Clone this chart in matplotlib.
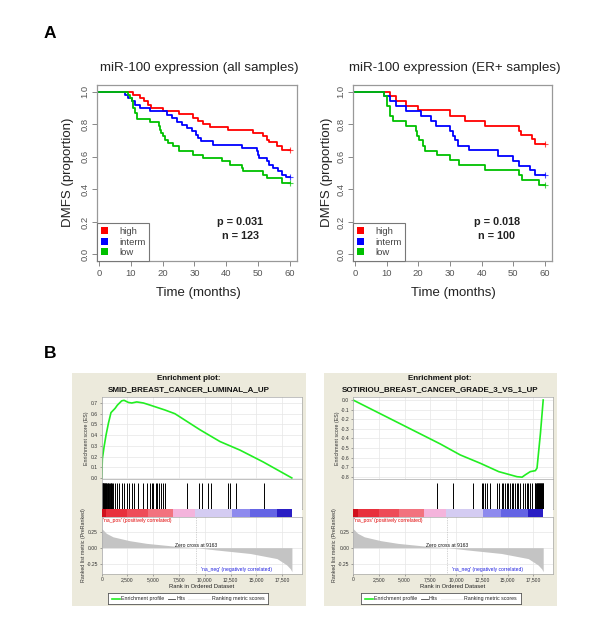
import matplotlib
matplotlib.use('Agg')
import matplotlib.pyplot as plt
from matplotlib.patches import Rectangle, Patch

plt.rcParams['font.family'] = ['Liberation Sans', 'DejaVu Sans']

# ---------------- data: Kaplan-Meier (panel A) ----------------
groups = ['high', 'interm', 'low']
group_colors = ['#FF0000', '#0000FF', '#00C000']

all_high_t = [10.8, 12.9, 14.1, 15.5, 16.2, 20.2, 25.1, 29.6, 31.2, 32.8, 34.9, 40.6, 48.5, 51.6, 52.7, 53.5, 55.8, 57.4]
all_high_s = [0.98, 0.96, 0.94, 0.92, 0.90, 0.88, 0.86, 0.84, 0.82, 0.80, 0.785, 0.765, 0.745, 0.725, 0.705, 0.69, 0.665, 0.643]
all_interm_t = [8.2, 9.2, 10.3, 11.3, 12.9, 16.0, 21.3, 23.1, 24.4, 26.0, 27.7, 29.1, 30.5, 31.2, 31.9, 35.9, 44.8,
                49.5, 49.8, 50.2, 52.7, 53.5, 54.6, 56.2, 57.4, 58.6]
all_interm_s = [0.98, 0.96, 0.94, 0.92, 0.90, 0.878, 0.857, 0.837, 0.816, 0.796, 0.776, 0.755, 0.735, 0.714, 0.694, 0.673, 0.653,
                0.633, 0.612, 0.592, 0.571, 0.551, 0.531, 0.51, 0.49, 0.473]
all_low_t = [9.2, 9.7, 10.3, 10.8, 11.3, 11.9, 16.0, 19.0, 19.2, 19.6, 20.2, 20.9, 21.8, 23.4, 25.1, 29.6, 32.8, 38.5,
             41.2, 44.8, 45.3, 51.6, 52.7, 57.4]
all_low_s = [0.98, 0.96, 0.94, 0.90, 0.87, 0.83, 0.81, 0.786, 0.765, 0.745, 0.724, 0.704, 0.684, 0.663, 0.637, 0.612, 0.592, 0.571,
             0.551, 0.531, 0.51, 0.49, 0.469, 0.44]

er_high_t = [11.0, 13.1, 16.1, 19.9, 30.1, 34.8, 40.9, 51.9, 52.5, 55.8, 56.7]
er_high_s = [0.97, 0.94, 0.91, 0.886, 0.85, 0.82, 0.79, 0.76, 0.735, 0.71, 0.68]
er_interm_t = [9.2, 11.0, 13.1, 16.1, 21.0, 24.1, 25.7, 29.9, 31.0, 31.5, 32.5, 36.0, 45.1, 50.0, 51.7, 55.1, 56.7]
er_interm_s = [0.97, 0.94, 0.91, 0.88, 0.85, 0.82, 0.786, 0.76, 0.73, 0.70, 0.667, 0.64, 0.606, 0.575, 0.545, 0.516, 0.486]
er_low_t = [9.2, 10.0, 11.0, 12.1, 16.1, 19.2, 19.6, 20.3, 21.6, 22.0, 26.0, 30.1, 32.8, 40.9, 51.9, 52.8, 58.0]
er_low_s = [0.97, 0.91, 0.85, 0.82, 0.786, 0.76, 0.73, 0.70, 0.667, 0.637, 0.608, 0.578, 0.547, 0.516, 0.485, 0.455, 0.424]

km_titles = ['miR-100 expression (all samples)', 'miR-100 expression (ER+ samples)']
km_pvals = ['p = 0.031', 'p = 0.018']
km_ns = ['n = 123', 'n = 100']
km_xticks = [0, 10, 20, 30, 40, 50, 60]
km_yticks = [0.0, 0.2, 0.4, 0.6, 0.8, 1.0]

# ---------------- data: GSEA (panel B) ----------------
gsea_titles = ['SMID_BREAST_CANCER_LUMINAL_A_UP', 'SOTIRIOU_BREAST_CANCER_GRADE_3_VS_1_UP']
es1_rank = [0, 65, 230, 420, 650, 900, 1300, 1520, 1940, 2170, 2590, 2920, 3400, 4050, 4700, 6120, 7100, 9530,
            11470, 13410, 15650, 18440]
es1_val = [0, 0.18, 0.29, 0.40, 0.51, 0.61, 0.65, 0.68, 0.72, 0.725, 0.705, 0.70, 0.71, 0.70, 0.68, 0.635, 0.60, 0.45,
           0.34, 0.26, 0.15, 0.0]
es2_rank = [0, 8456, 10400, 12350, 14130, 15910, 16400, 16720, 17200, 17690, 17850, 18180, 18450]
es2_val = [0, -0.458, -0.573, -0.66, -0.747, -0.80, -0.805, -0.78, -0.747, -0.737, -0.71, -0.35, 0.0]
es1_ticks = [0.0, 0.1, 0.2, 0.3, 0.4, 0.5, 0.6, 0.7]
es2_ticks = [0.0, -0.1, -0.2, -0.3, -0.4, -0.5, -0.6, -0.7, -0.8]

hits1 = [0, 40, 80, 120, 160, 200, 250, 300, 350, 400, 460, 520, 580, 640, 700, 780, 860, 950, 1040, 1130, 1290,
         1455, 1710, 1940, 2165, 2425, 2650, 2910, 3165, 3550, 4035, 4365, 4685, 4850, 5005, 5270, 5400, 5560, 5720,
         5915, 6140, 8300, 9470, 9700, 10340, 10600, 12280, 12445, 13030, 15770]
hits2 = [8150, 9700, 11670, 12480, 12640, 12800, 12970, 13290, 14000, 14190, 14420, 14580, 14740, 14910, 15070,
         15230, 15390, 15550, 15710, 15880, 16040, 16200, 16520, 16680, 16850, 17010, 17170, 17330, 17650, 17700,
         17750, 17800, 17850, 17900, 17950, 18000, 18050, 18100, 18150, 18200, 18250, 18300, 18350, 18400, 18450]

rank_pos = [0, 450, 1100, 2700, 4350, 5950, 7600, 9163, 11150, 14400, 17000, 17950, 18300, 18450]
rank_metric = [0.30, 0.225, 0.17, 0.11, 0.068, 0.042, 0.016, 0.0, -0.036, -0.09, -0.17, -0.27, -0.33, -0.375]
zero_cross = 9163
rank_xticks = [0, 2500, 5000, 7500, 10000, 12500, 15000, 17500]
rank_xticklabels = ['0', '2,500', '5,000', '7,500', '10,000', '12,500', '15,000', '17,500']
rank_yticks = [0.25, 0.0, -0.25]
rank_yticklabels = ['0.25', '0.00', '-0.25']

cb_edges = [0, 450, 2500, 4500, 6900, 9050, 12650, 14400, 17000, 18450]
cb_colors = ['#D0101C', '#E8303C', '#EE4C58', '#F2727E', '#F4B4DC', '#D4CCF2', '#8E8AEE', '#6464E4', '#2A1EC4']

# ---------------- layout helpers ----------------
W, H = 600, 643
fig = plt.figure(figsize=(6, 6.43), dpi=100)


def rect(x0, y0, x1, y1):
    return [x0 / W, 1 - y1 / H, (x1 - x0) / W, (y1 - y0) / H]


def ftext(x, y, s, **kw):
    fig.text(x / W, 1 - y / H, s, **kw)


# ---------------- panel A ----------------
ftext(50, 34, 'A', fontsize=12.5, fontweight='bold', ha='center', va='center')

km_sets = [
    [(all_high_t, all_high_s), (all_interm_t, all_interm_s), (all_low_t, all_low_s)],
    [(er_high_t, er_high_s), (er_interm_t, er_interm_s), (er_low_t, er_low_s)],
]
km_boxes = [(97, 85, 297, 261), (353, 85, 552, 261)]
km_title_x = [199, 455]
km_ylab_x = [68, 327]
km_p_x = [240, 497]

for i in range(2):
    x0, y0, x1, y1 = km_boxes[i]
    ax = fig.add_axes(rect(x0, y0, x1, y1))
    for (t, s), c in zip(km_sets[i], group_colors):
        tt = [0] + t + [60]
        ss = [1.0] + s + [s[-1]]
        ax.step(tt, ss, where='post', color=c, lw=1.3)
        ax.plot([60], [s[-1]], marker='+', color=c, ms=4, mew=0.8, alpha=0.7)
    ax.set_xlim(-0.6, 62.2)
    ax.set_ylim(-0.04, 1.04)
    ax.set_xticks(km_xticks)
    ax.set_yticks(km_yticks)
    ax.set_yticklabels(['%.1f' % v for v in km_yticks], rotation=90, va='center')
    ax.tick_params(direction='out', length=3.5, width=0.7, colors='#888888', labelcolor='#555555',
                   labelsize=6.8, pad=2)
    for sp in ax.spines.values():
        sp.set_color('#999999')
        sp.set_linewidth(0.9)
    handles = [Patch(facecolor=c, edgecolor='none') for c in group_colors]
    leg = ax.legend(handles, groups, loc='lower left', bbox_to_anchor=(0, 0), borderaxespad=0,
                    fancybox=False, framealpha=1, edgecolor='#777777', fontsize=6.8,
                    handlelength=0.75, handleheight=0.75, handletextpad=1.2, borderpad=0.4,
                    labelspacing=0.17)
    leg.get_frame().set_linewidth(0.8)
    for tx in leg.get_texts():
        tx.set_color('#444444')
    ftext(km_title_x[i], 68, km_titles[i], fontsize=9.6, ha='center', va='center', color='#222222')
    ftext(km_ylab_x[i], 172, 'DMFS (proportion)', fontsize=9.5, rotation=90, ha='center', va='center',
          color='#222222')
    ftext((x0 + x1) / 2 + 1, 293, 'Time (months)', fontsize=9.5, ha='center', va='center', color='#222222')
    ftext(km_p_x[i], 222, km_pvals[i], fontsize=7.8, fontweight='bold', ha='center', va='center', color='#222222')
    ftext(km_p_x[i], 236, km_ns[i], fontsize=7.8, fontweight='bold', ha='center', va='center', color='#222222')

# ---------------- panel B ----------------
ftext(50, 354, 'B', fontsize=12.5, fontweight='bold', ha='center', va='center')

BEIGE = '#ECEADC'
panels = [
    dict(bx=(72, 305.5), px=(101.7, 301.7), es_r=es1_rank, es_v=es1_val, ylim=(-0.01, 0.756),
         yt=es1_ticks, hits=hits1, leg=(108.3, 268.3), title=gsea_titles[0]),
    dict(bx=(323.5, 557), px=(353, 553), es_r=es2_rank, es_v=es2_val, ylim=(-0.824, 0.031),
         yt=es2_ticks, hits=hits2, leg=(361, 521), title=gsea_titles[1]),
]
XMAX = 19400
GRID = '#E6E6E6'
FRAME = '#A8A8A8'

for p in panels:
    bx0, bx1 = p['bx']
    px0, px1 = p['px']
    fig.add_artist(Rectangle((bx0 / W, 1 - 606 / H), (bx1 - bx0) / W, (606 - 372.7) / H,
                             transform=fig.transFigure, facecolor=BEIGE, edgecolor='none', zorder=-5))
    cx = (bx0 + bx1) / 2
    ftext(cx, 379, 'Enrichment plot:', fontsize=5.8, fontweight='bold', ha='center', va='center', color='#111111')
    ftext(cx, 389.5, p['title'], fontsize=5.8, fontweight='bold', ha='center', va='center', color='#111111')

    # ES plot
    ax_es = fig.add_axes(rect(px0, 397, px1, 479))
    ax_es.plot(p['es_r'], p['es_v'], color='#22EE22', lw=1.2)
    ax_es.set_xlim(0, XMAX)
    ax_es.set_ylim(*p['ylim'])
    ax_es.set_yticks(p['yt'])
    ax_es.set_yticklabels(['%.1f' % v for v in p['yt']])
    ax_es.set_xticks(rank_xticks)
    ax_es.set_xticklabels([])
    ax_es.grid(True, color=GRID, lw=0.5)
    ax_es.set_axisbelow(True)
    ax_es.tick_params(axis='y', length=1.2, width=0.4, colors='#666666', labelsize=3.6, pad=1.5,
                      labelcolor='#333333')
    ax_es.tick_params(axis='x', length=0)
    for sp in ax_es.spines.values():
        sp.set_color(FRAME)
        sp.set_linewidth(0.5)
    ftext(px0 - 15.5, 438, 'Enrichment score (ES)', fontsize=3.8, rotation=90, ha='center', va='center',
          color='#333333')

    # hits
    ax_h = fig.add_axes(rect(px0, 479, px1, 509))
    ax_h.vlines(p['hits'], 0, 0.88, color='black', lw=0.7)
    ax_h.set_xlim(0, XMAX)
    ax_h.set_ylim(0, 1)
    ax_h.set_xticks([])
    ax_h.set_yticks([])
    for sp in ax_h.spines.values():
        sp.set_color(FRAME)
        sp.set_linewidth(0.5)

    # colour bar
    ax_c = fig.add_axes(rect(px0, 509, px1, 517))
    for k in range(len(cb_colors)):
        ax_c.axvspan(cb_edges[k], cb_edges[k + 1], color=cb_colors[k], lw=0)
    ax_c.set_xlim(0, XMAX)
    ax_c.set_ylim(0, 1)
    ax_c.set_xticks([])
    ax_c.set_yticks([])
    for sp in ax_c.spines.values():
        sp.set_visible(False)

    # ranked metric
    ax_r = fig.add_axes(rect(px0, 517, px1, 573.5))
    ax_r.fill_between(rank_pos, rank_metric, 0, color='#C4C4C4', lw=0)
    ax_r.axvline(zero_cross, color='#AAAAAA', lw=0.5, ls=(0, (1, 1.5)))
    ax_r.set_xlim(0, XMAX)
    ax_r.set_ylim(-0.403, 0.48)
    ax_r.set_yticks(rank_yticks)
    ax_r.set_yticklabels(rank_yticklabels)
    ax_r.set_xticks(rank_xticks)
    ax_r.set_xticklabels(rank_xticklabels)
    ax_r.grid(True, color=GRID, lw=0.5)
    ax_r.set_axisbelow(True)
    ax_r.tick_params(length=1.2, width=0.4, colors='#666666', labelsize=3.6, pad=1.5, labelcolor='#333333')
    for sp in ax_r.spines.values():
        sp.set_color(FRAME)
        sp.set_linewidth(0.5)
    ax_r.text(120, 0.433, "'na_pos' (positively correlated)", color='#E00000', fontsize=3.6, ha='left', va='center')
    ax_r.text(zero_cross, 0.03, 'Zero cross at %d' % zero_cross, color='#111111', fontsize=3.6, ha='center',
              va='center')
    ax_r.text(9600, -0.34, "'na_neg' (negatively correlated)", color='#2020E0', fontsize=3.6, ha='left',
              va='center')
    ftext(px0 - 18.5, 545, 'Ranked list metric (PreRanked)', fontsize=3.8, rotation=90, ha='center', va='center',
          color='#333333')
    ftext((px0 + px1) / 2, 586, 'Rank in Ordered Dataset', fontsize=4.2, ha='center', va='center', color='#222222')

    # legend box
    lx0, lx1 = p['leg']
    ax_l = fig.add_axes(rect(lx0, 593.3, lx1, 604.3))
    ax_l.set_xlim(0, lx1 - lx0)
    ax_l.set_ylim(0, 11)
    ax_l.set_xticks([])
    ax_l.set_yticks([])
    for sp in ax_l.spines.values():
        sp.set_color('#555555')
        sp.set_linewidth(0.6)
    ax_l.plot([3.5, 11.5], [5.5, 5.5], color='#22EE22', lw=1.2)
    ax_l.text(12.5, 5.5, 'Enrichment profile', fontsize=3.8, va='center', ha='left', color='#222222')
    ax_l.plot([60, 67], [5.5, 5.5], color='#444444', lw=0.6)
    ax_l.text(68, 5.5, 'Hits', fontsize=3.8, va='center', ha='left', color='#222222')
    ax_l.plot([80, 102], [5.5, 5.5], color='#EEEEEE', lw=0.8)
    ax_l.text(103.5, 5.5, 'Ranking metric scores', fontsize=3.8, va='center', ha='left', color='#222222')

fig.savefig('out.png', dpi=100)
